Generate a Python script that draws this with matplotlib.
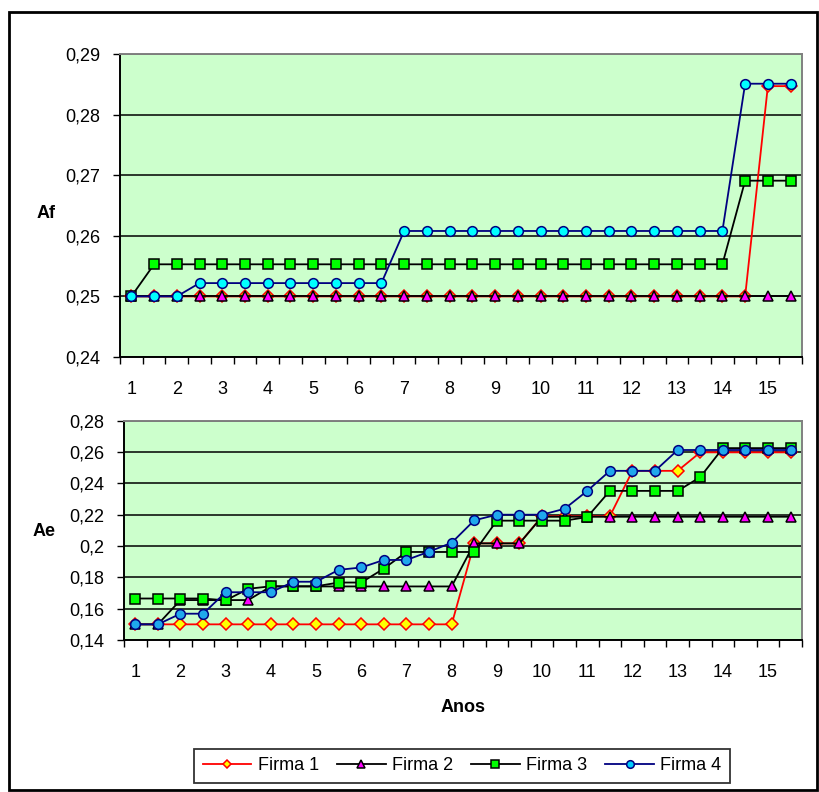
import matplotlib.pyplot as plt
from matplotlib.lines import Line2D
from matplotlib.patches import Rectangle
from matplotlib.ticker import FuncFormatter

plt.rcParams['font.family'] = ['Liberation Sans', 'DejaVu Sans']

# periodos (meio ano) e rotulos do eixo
anos = [1, 1.5, 2, 2.5, 3, 3.5, 4, 4.5, 5, 5.5, 6, 6.5, 7, 7.5, 8,
        8.5, 9, 9.5, 10, 10.5, 11, 11.5, 12, 12.5, 13, 13.5, 14, 14.5, 15, 15.5]
rotulos = [1, 2, 3, 4, 5, 6, 7, 8, 9, 10, 11, 12, 13, 14, 15]

# Af por firma
af_firma1 = [0.25, 0.25, 0.25, 0.25, 0.25, 0.25, 0.25, 0.25, 0.25, 0.25,
             0.25, 0.25, 0.25, 0.25, 0.25, 0.25, 0.25, 0.25, 0.25, 0.25,
             0.25, 0.25, 0.25, 0.25, 0.25, 0.25, 0.25, 0.25, 0.2847, 0.2847]
af_firma2 = [0.25, 0.25, 0.25, 0.25, 0.25, 0.25, 0.25, 0.25, 0.25, 0.25,
             0.25, 0.25, 0.25, 0.25, 0.25, 0.25, 0.25, 0.25, 0.25, 0.25,
             0.25, 0.25, 0.25, 0.25, 0.25, 0.25, 0.25, 0.25, 0.25, 0.25]
af_firma3 = [0.25, 0.2553, 0.2553, 0.2553, 0.2553, 0.2553, 0.2553, 0.2553, 0.2553, 0.2553,
             0.2553, 0.2553, 0.2553, 0.2553, 0.2553, 0.2553, 0.2553, 0.2553, 0.2553, 0.2553,
             0.2553, 0.2553, 0.2553, 0.2553, 0.2553, 0.2553, 0.2553, 0.2691, 0.2691, 0.2691]
af_firma4 = [0.25, 0.25, 0.25, 0.2522, 0.2522, 0.2522, 0.2522, 0.2522, 0.2522, 0.2522,
             0.2522, 0.2522, 0.2608, 0.2608, 0.2608, 0.2608, 0.2608, 0.2608, 0.2608, 0.2608,
             0.2608, 0.2608, 0.2608, 0.2608, 0.2608, 0.2608, 0.2608, 0.2851, 0.2851, 0.2851]

# Ae por firma
ae_firma1 = [0.15, 0.15, 0.15, 0.15, 0.15, 0.15, 0.15, 0.15, 0.15, 0.15,
             0.15, 0.15, 0.15, 0.15, 0.15, 0.2017, 0.2017, 0.2017, 0.219, 0.219,
             0.219, 0.219, 0.248, 0.248, 0.248, 0.2598, 0.2598, 0.2598, 0.2598, 0.2598]
ae_firma2 = [0.15, 0.15, 0.1655, 0.1655, 0.1655, 0.1655, 0.1742, 0.1742, 0.1742, 0.1742,
             0.1742, 0.1742, 0.1742, 0.1742, 0.1742, 0.2017, 0.2017, 0.2017, 0.2187, 0.2187,
             0.2187, 0.2187, 0.2187, 0.2187, 0.2187, 0.2187, 0.2187, 0.2187, 0.2187, 0.2187]
ae_firma3 = [0.1665, 0.1665, 0.1665, 0.1665, 0.1653, 0.1727, 0.1743, 0.1743, 0.1743, 0.1767,
             0.1767, 0.1856, 0.1962, 0.1962, 0.1962, 0.1962, 0.2162, 0.2162, 0.2162, 0.2162,
             0.2185, 0.2352, 0.2352, 0.2352, 0.2352, 0.244, 0.2625, 0.2625, 0.2625, 0.2625]
ae_firma4 = [0.15, 0.15, 0.1568, 0.1568, 0.1705, 0.1705, 0.1705, 0.1772, 0.1772, 0.1848,
             0.1863, 0.1911, 0.1911, 0.1964, 0.2021, 0.2164, 0.22, 0.22, 0.22, 0.2238,
             0.2352, 0.248, 0.248, 0.248, 0.2613, 0.2613, 0.2613, 0.2613, 0.2613, 0.2613]

af_ticks = [0.24, 0.25, 0.26, 0.27, 0.28, 0.29]
ae_ticks = [0.14, 0.16, 0.18, 0.2, 0.22, 0.24, 0.26, 0.28]

fundo = '#CCFFCC'
fonte = 13
estilos = [
    dict(color='red', marker='D', markerfacecolor='yellow', markeredgecolor='red', label='Firma 1'),
    dict(color='black', marker='^', markerfacecolor='#FF00FF', markeredgecolor='black', label='Firma 2'),
    dict(color='black', marker='s', markerfacecolor='#00FF00', markeredgecolor='black', label='Firma 3'),
    dict(color='#000080', marker='o', markerfacecolor='#00FFFF', markeredgecolor='#000080', label='Firma 4'),
]
tamanhos = [6, 7.5, 7, 7]


def virgula(v, pos):
    return f'{round(v, 4):g}'.replace('.', ',')


def formatar(ax, ticks):
    ax.set_facecolor(fundo)
    ax.set_xlim(0.75, 15.75)
    ax.set_ylim(ticks[0], ticks[-1])
    ax.set_yticks(ticks)
    ax.yaxis.set_major_formatter(FuncFormatter(virgula))
    ax.set_axisbelow(True)
    ax.yaxis.grid(True, color='black', linewidth=1.1)
    ax.set_xticks(rotulos)
    ax.set_xticks([0.75 + 0.5 * k for k in range(31)], minor=True)
    ax.tick_params(axis='x', which='major', length=0, pad=17, labelsize=fonte)
    ax.tick_params(axis='x', which='minor', length=5, width=1, direction='out')
    ax.tick_params(axis='y', length=5, width=1, direction='out', pad=9, labelsize=fonte)
    for lado in ['left', 'bottom']:
        ax.spines[lado].set_color('black')
        ax.spines[lado].set_linewidth(1.4)
    for lado in ['top', 'right']:
        ax.spines[lado].set_color('#808080')
        ax.spines[lado].set_linewidth(1.4)


fig = plt.figure(figsize=(8.2, 7.92), dpi=100)

ax1 = fig.add_axes([0.1463, 0.5492, 0.8317, 0.3826])
for serie, est, ms in zip([af_firma1, af_firma2, af_firma3, af_firma4], estilos, tamanhos):
    ax1.plot(anos, serie, linewidth=1.3, markersize=ms, markeredgewidth=1.1, **est)
formatar(ax1, af_ticks)

ax2 = fig.add_axes([0.1512, 0.1919, 0.8268, 0.2769])
estilos_ae = [dict(e) for e in estilos]
estilos_ae[3]['markerfacecolor'] = '#1FA8EC'
for serie, est, ms in zip([ae_firma1, ae_firma2, ae_firma3, ae_firma4], estilos_ae, tamanhos):
    ax2.plot(anos, serie, linewidth=1.3, markersize=ms, markeredgewidth=1.1, **est)
formatar(ax2, ae_ticks)

fig.text(46 / 820, 1 - 213 / 792, 'Af', fontsize=fonte, fontweight='bold', ha='center', va='center')
fig.text(44 / 820, 1 - 532 / 792, 'Ae', fontsize=fonte, fontweight='bold', ha='center', va='center')
fig.text(463 / 820, 1 - 708 / 792, 'Anos', fontsize=fonte, fontweight='bold', ha='center', va='center')

entradas = []
for est, ms in zip(estilos, tamanhos):
    e = dict(est)
    if e['label'] == 'Firma 4':
        e['markerfacecolor'] = '#00CCFF'
    entradas.append(Line2D([0], [0], linewidth=1.3, markersize=ms - 1.5, markeredgewidth=1.1, **e))
leg = fig.legend(handles=entradas, loc='center', bbox_to_anchor=(462 / 820, 1 - 766 / 792),
                 ncol=4, fontsize=fonte, frameon=True, fancybox=False, edgecolor='black',
                 handlelength=2.7, handletextpad=0.35, columnspacing=1.0, borderpad=0.45)
leg.get_frame().set_linewidth(1.3)

# moldura externa
fig.patches.append(Rectangle((9 / 820, 2 / 792), 808 / 820, 778 / 792, transform=fig.transFigure,
                             fill=False, edgecolor='black', linewidth=2))

fig.savefig('out.png', dpi=100)
